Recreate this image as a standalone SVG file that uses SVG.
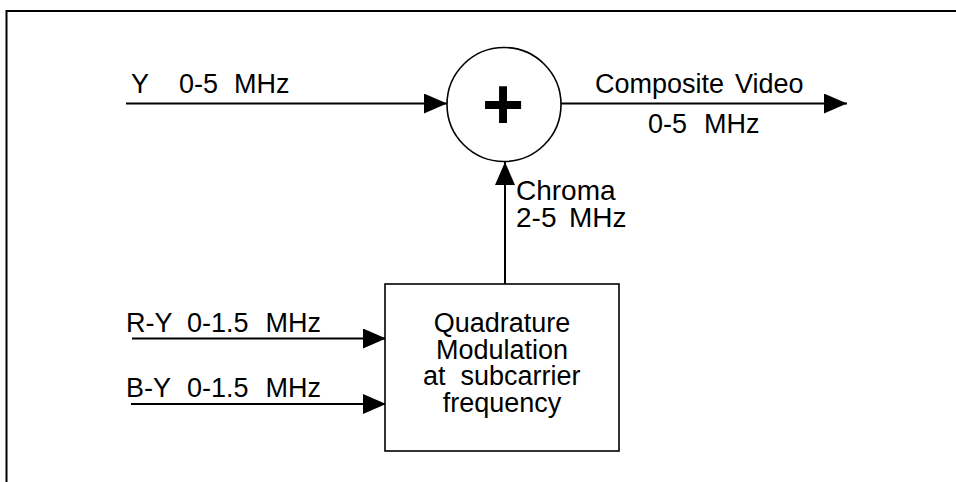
<svg xmlns="http://www.w3.org/2000/svg" width="956" height="482" viewBox="0 0 956 482">
<style>
text{font-family:"Liberation Sans",Arial,sans-serif;font-size:27px;fill:#000}
.ln{stroke:#000;stroke-width:2;fill:none}
.shape{stroke:#000;stroke-width:1.6;fill:#fff}
</style>
<defs>
<marker id="ah" markerUnits="userSpaceOnUse" markerWidth="24" markerHeight="22" refX="23" refY="10" orient="auto">
<path d="M0,0 L23,10 L0,20 Z" fill="#000"/>
</marker>
</defs>
<rect x="6.5" y="11" width="960" height="480" fill="none" stroke="#000" stroke-width="2"/>
<g id="connectors">
<line class="ln" x1="126" y1="103.5" x2="447" y2="103.5" marker-end="url(#ah)"/>
<line class="ln" x1="561" y1="103.5" x2="847" y2="103.5" marker-end="url(#ah)"/>
<line class="ln" x1="505" y1="284" x2="505" y2="162" marker-end="url(#ah)"/>
<line class="ln" x1="132" y1="338.5" x2="386" y2="338.5" marker-end="url(#ah)"/>
<line class="ln" x1="131" y1="404" x2="386" y2="404" marker-end="url(#ah)"/>
</g>
<g id="sum">
<circle class="shape" cx="504" cy="104.5" r="57"/>
<text x="503" y="129" text-anchor="middle" style="font-size:72px;font-weight:bold">+</text>
</g>
<g id="modulator">
<rect class="shape" x="385" y="284" width="234" height="167"/>
<text x="502" y="332" text-anchor="middle">Quadrature</text>
<text x="502" y="358.5" text-anchor="middle">Modulation</text>
<text y="385"><tspan x="423">at</tspan> <tspan x="460.5">subcarrier</tspan></text>
<text x="502" y="411.5" text-anchor="middle">frequency</text>
</g>
<g id="labels">
<text y="93"><tspan x="131">Y</tspan> <tspan x="179">0-5</tspan> <tspan x="234">MHz</tspan></text>
<text y="93"><tspan x="595">Composite</tspan> <tspan x="735">Video</tspan></text>
<text y="133"><tspan x="648">0-5</tspan> <tspan x="704">MHz</tspan></text>
<text x="516" y="200" style="font-size:28px">Chroma</text>
<text y="227" style="font-size:28px"><tspan x="516">2-5</tspan> <tspan x="569">MHz</tspan></text>
<text y="332"><tspan x="126">R-Y</tspan> <tspan x="187">0-1.5</tspan> <tspan x="265.5">MHz</tspan></text>
<text y="397"><tspan x="126">B-Y</tspan> <tspan x="187">0-1.5</tspan> <tspan x="265.5">MHz</tspan></text>
</g>
</svg>
